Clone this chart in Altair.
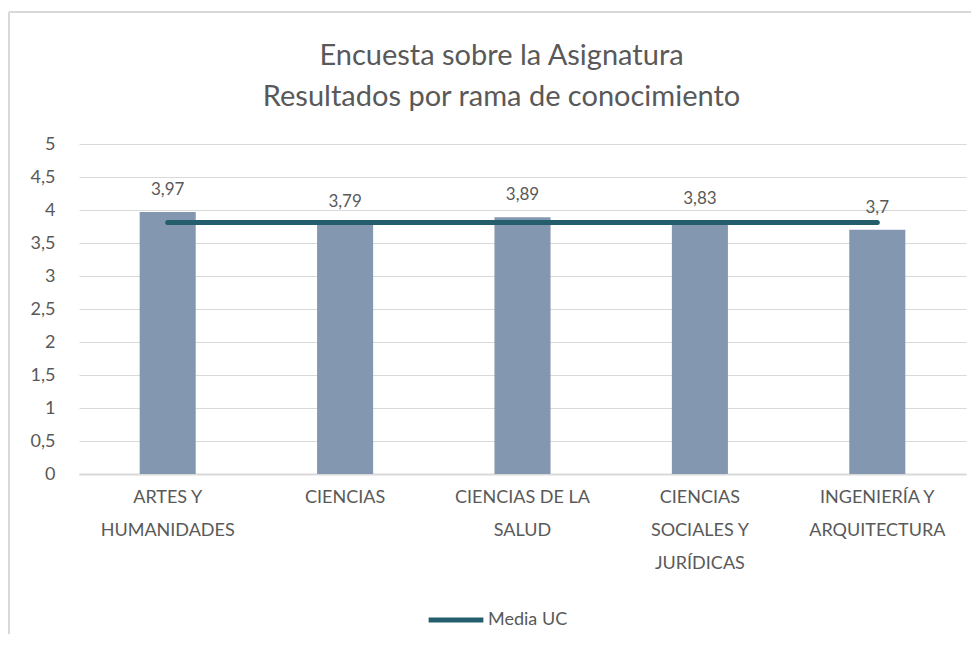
import altair as alt
import pandas as pd

categories = ["ARTES Y|HUMANIDADES", "CIENCIAS", "CIENCIAS DE LA|SALUD",
              "CIENCIAS|SOCIALES Y|JURÍDICAS", "INGENIERÍA Y|ARQUITECTURA"]
values = [3.97, 3.79, 3.89, 3.83, 3.7]
media_uc = [3.81, 3.81, 3.81, 3.81, 3.81]
series_name = "Media UC"
title_lines = ["Encuesta sobre la Asignatura", "Resultados por rama de conocimiento"]
y_ticks = [0, 0.5, 1, 1.5, 2, 2.5, 3, 3.5, 4, 4.5, 5]

df = pd.DataFrame({"cat": categories, "value": values, "media": media_uc,
                   "serie": [series_name] * len(categories)})

FONT = "Lato"
TXT = "#595959"
W, H = 887, 330

x_axis = alt.Axis(title=None, labelAngle=0, labelExpr="split(datum.label, '|')",
                  labelFontSize=18, labelColor=TXT, labelFont=FONT,
                  labelLineHeight=33, labelPadding=14, labelBaseline="top",
                  ticks=False, domain=True, domainColor="#D9D9D9", domainWidth=2)
y_axis = alt.Axis(title=None, values=y_ticks,
                  labelExpr="replace(toString(datum.value), '.', ',')",
                  labelFontSize=18, labelColor=TXT, labelFont=FONT, labelOverlap=False,
                  labelPadding=24, ticks=False, domain=False,
                  grid=True, gridColor="#D9D9D9", gridWidth=1)
x_scale = alt.Scale(paddingInner=0.684, paddingOuter=0.342)
y_scale = alt.Scale(domain=[0, 5], nice=False)

bars = alt.Chart(df).mark_bar(color="#8497B0").encode(
    x=alt.X("cat:N", sort=categories, scale=x_scale, axis=x_axis),
    y=alt.Y("value:Q", scale=y_scale, axis=y_axis),
)

labels = alt.Chart(df).transform_calculate(
    lbl="replace(toString(datum.value), '.', ',')"
).mark_text(dy=-22, fontSize=17, color=TXT, font=FONT).encode(
    x=alt.X("cat:N", sort=categories, scale=x_scale, axis=x_axis),
    y=alt.Y("value:Q", scale=y_scale, axis=y_axis),
    text="lbl:N",
)

line = alt.Chart(df).mark_line(strokeWidth=5, strokeCap="round").encode(
    x=alt.X("cat:N", sort=categories, scale=x_scale, axis=x_axis),
    y=alt.Y("media:Q", scale=y_scale, axis=y_axis),
    color=alt.Color("serie:N", scale=alt.Scale(domain=[series_name], range=["#245E6C"]),
                    legend=alt.Legend(title=None, orient="none", legendX=347, legendY=446,
                                      symbolType="stroke", symbolSize=3000,
                                      symbolStrokeWidth=5, labelFontSize=18,
                                      labelColor=TXT, labelFont=FONT, labelOffset=2)),
)

frame_left = alt.Chart(df).mark_rule(color="#D9D9D9", strokeWidth=2).encode(
    x=alt.value(-70), y=alt.value(-132), y2=alt.value(H + 200))
frame_top = alt.Chart(df).mark_rule(color="#D9D9D9", strokeWidth=2).encode(
    x=alt.value(-70), x2=alt.value(W + 60), y=alt.value(-132))

chart = alt.layer(frame_left, frame_top, bars, line, labels).properties(
    width=W, height=H,
    title=alt.TitleParams(title_lines, fontSize=29, font=FONT, fontWeight="normal",
                          color=TXT, anchor="middle", dx=-21, offset=-101, lineHeight=41),
    autosize=alt.AutoSizeParams(type="none"),
    padding={"left": 71, "top": 136, "right": 5, "bottom": 160},
).configure_view(stroke=None)

chart.save("out.html", embed_options={"renderer": "svg", "actions": False})
